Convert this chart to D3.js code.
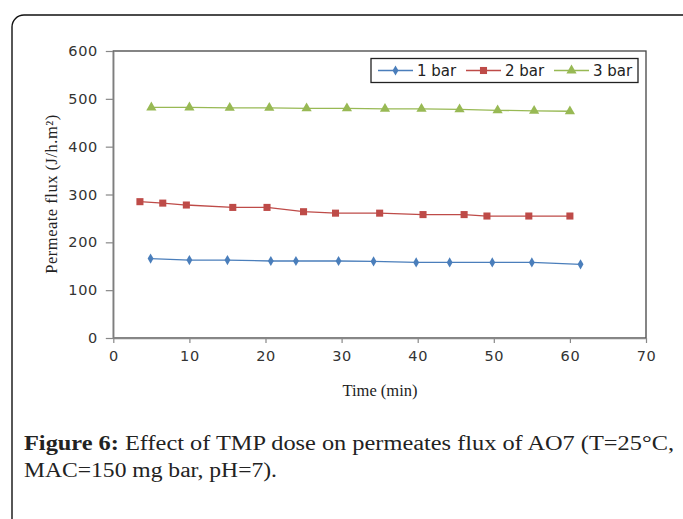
<!DOCTYPE html>
<html>
<head>
<meta charset="utf-8">
<script src="https://cdn.jsdelivr.net/npm/d3@7/dist/d3.min.js"></script>
<style>
  body { margin: 0; background: #fff; }
  svg { display: block; }
</style>
</head>
<body>
<svg id="chart" width="683" height="519"></svg>
<script>
// data
const seriesNames = ['1 bar', '2 bar', '3 bar'];

const time1 = [4.9, 10, 15, 20.7, 24, 29.6, 34.2, 39.8, 44.2, 49.8, 55, 61.4];
const flux1 = [166, 163, 163, 161, 161, 161, 160, 158, 158, 158, 158, 154];

const time2 = [3.5, 6.5, 9.6, 15.7, 20.2, 25, 29.2, 35, 40.7, 46.1, 49.1, 54.6, 60];
const flux2 = [285, 282, 278, 273, 273, 264, 261, 261, 258, 258, 255, 255, 255];

const time3 = [5, 10, 15.3, 20.5, 25.4, 30.7, 35.7, 40.5, 45.5, 50.5, 55.3, 60];
const flux3 = [482, 482, 481, 481, 480, 480, 479, 479, 478, 476, 475, 474];

const xTicks = [0, 10, 20, 30, 40, 50, 60, 70];
const yTicks = [0, 100, 200, 300, 400, 500, 600];

const svg = d3.select('#chart');
const serif = '"Liberation Serif", "Times New Roman", serif';
const tickFont = '"DejaVu Sans", Verdana, sans-serif';

// outer frame, cut off at right and bottom
svg.append('rect')
  .attr('x', 12).attr('y', 15)
  .attr('width', 720).attr('height', 560)
  .attr('rx', 12).attr('ry', 12)
  .attr('fill', 'none')
  .attr('stroke', '#111')
  .attr('stroke-width', 1.4);

const plotL = 113.3, plotR = 646, plotT = 51, plotB = 338;

const x = d3.scaleLinear().domain([0, 70]).range([plotL, plotR]);
const y = d3.scaleLinear().domain([0, 600]).range([plotB, plotT]);

// plot area border
svg.append('rect')
  .attr('x', plotL).attr('y', plotT)
  .attr('width', plotR - plotL).attr('height', plotB - plotT)
  .attr('fill', 'none')
  .attr('stroke', '#444')
  .attr('stroke-width', 1.3);

const xAxis = svg.append('g')
  .attr('transform', `translate(0,${plotB})`)
  .call(d3.axisBottom(x).tickValues(xTicks).tickSize(5).tickPadding(8).tickSizeOuter(0));

const yAxis = svg.append('g')
  .attr('transform', `translate(${plotL},0)`)
  .call(d3.axisLeft(y).tickValues(yTicks).tickSize(7.5).tickPadding(8).tickSizeOuter(0));

[xAxis, yAxis].forEach(ax => {
  ax.attr('font-size', 14.5).attr('font-family', tickFont);
  ax.select('.domain').attr('stroke', '#888').attr('stroke-width', 1.3);
  ax.selectAll('.tick line').attr('stroke', '#888').attr('stroke-width', 1.2);
  ax.selectAll('.tick text')
    .attr('fill', '#333')
    .style('letter-spacing', '0.6px');
});

// axis titles
svg.append('text')
  .attr('x', 380).attr('y', 396)
  .attr('text-anchor', 'middle')
  .style('font-family', serif)
  .style('font-size', '16.5px')
  .attr('fill', '#222')
  .text('Time (min)');

svg.append('text')
  .attr('transform', 'translate(57,194) rotate(-90)')
  .attr('text-anchor', 'middle')
  .style('font-family', serif)
  .style('font-size', '16.5px')
  .style('letter-spacing', '0.5px')
  .attr('fill', '#222')
  .text('Permeate flux (J/h.m²)');

const colors = ['#4A7EBB', '#BE4B48', '#98B954'];
const symbols = [d3.symbolDiamond, d3.symbolSquare, d3.symbolTriangle];
const symSizes = [30, 50, 45];

const series = [
  { name: seriesNames[0], xs: time1, ys: flux1 },
  { name: seriesNames[1], xs: time2, ys: flux2 },
  { name: seriesNames[2], xs: time3, ys: flux3 }
];

const line = d3.line().x(d => x(d[0])).y(d => y(d[1]));

series.forEach((s, i) => {
  const pts = s.xs.map((t, k) => [t, s.ys[k]]);
  const g = svg.append('g');
  g.append('path')
    .datum(pts)
    .attr('d', line)
    .attr('fill', 'none')
    .attr('stroke', colors[i])
    .attr('stroke-width', 1.3);
  g.selectAll('path.m')
    .data(pts)
    .enter()
    .append('path')
    .attr('class', 'm')
    .attr('d', d3.symbol().type(symbols[i]).size(symSizes[i]))
    .attr('transform', d => `translate(${x(d[0])},${y(d[1])})`)
    .attr('fill', colors[i]);
});

// legend
const legend = svg.append('g');
legend.append('rect')
  .attr('x', 371).attr('y', 58.5)
  .attr('width', 267).attr('height', 24)
  .attr('fill', '#fff')
  .attr('stroke', '#222')
  .attr('stroke-width', 1.3);

const legendX = [378, 466, 554];
series.forEach((s, i) => {
  const lx = legendX[i];
  legend.append('line')
    .attr('x1', lx).attr('x2', lx + 35)
    .attr('y1', 70.5).attr('y2', 70.5)
    .attr('stroke', colors[i])
    .attr('stroke-width', 1.3);
  legend.append('path')
    .attr('d', d3.symbol().type(symbols[i]).size(symSizes[i]))
    .attr('transform', `translate(${lx + 17.5},70.5)`)
    .attr('fill', colors[i]);
  legend.append('text')
    .attr('x', lx + 39).attr('y', 76)
    .style('font-family', tickFont)
    .style('font-size', '15px')
    .attr('fill', '#222')
    .text(s.name);
});

// caption
const cap1 = svg.append('text')
  .attr('x', 24).attr('y', 450)
  .attr('textLength', 650)
  .attr('lengthAdjust', 'spacingAndGlyphs')
  .style('font-family', serif)
  .style('font-size', '20px')
  .attr('fill', '#222');
cap1.append('tspan').style('font-weight', 'bold').text('Figure 6:');
cap1.append('tspan').text(' Effect of TMP dose on permeates flux of AO7 (T=25°C,');

svg.append('text')
  .attr('x', 24).attr('y', 477)
  .attr('textLength', 253)
  .attr('lengthAdjust', 'spacingAndGlyphs')
  .style('font-family', serif)
  .style('font-size', '20px')
  .attr('fill', '#222')
  .text('MAC=150 mg bar, pH=7).');
</script>
</body>
</html>
